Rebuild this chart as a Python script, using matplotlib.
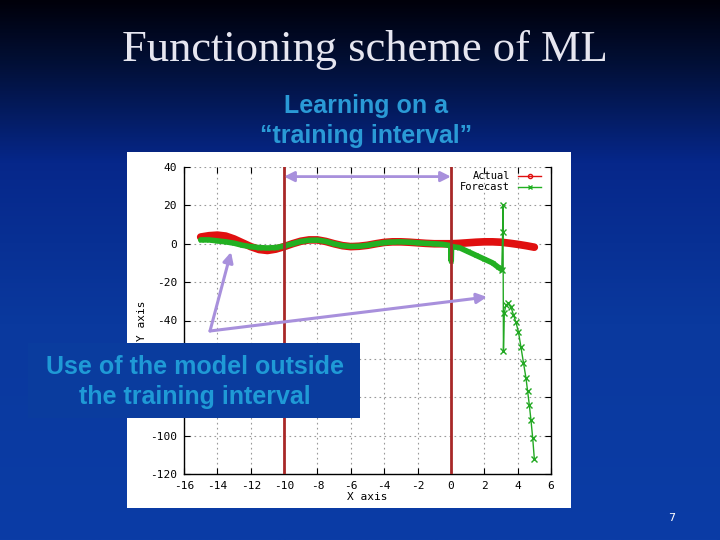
import numpy as np
import matplotlib
matplotlib.use('Agg')
import matplotlib.pyplot as plt
from matplotlib.colors import LinearSegmentedColormap
from matplotlib.patches import Rectangle
from matplotlib.lines import Line2D

# Datos
x_actual = [-15.0, -14.5, -14.0, -13.5, -13.0, -12.5, -12.0, -11.5, -11.0, -10.5, -10.0,
            -9.5, -9.0, -8.5, -8.0, -7.5, -7.0, -6.5, -6.0, -5.5, -5.0, -4.5, -4.0,
            -3.5, -3.0, -2.5, -2.0, -1.5, -1.0, -0.5, 0.0, 0.5, 1.0, 1.5, 2.0, 2.5,
            3.0, 3.5, 4.0, 4.5, 5.0]
y_actual = [3.5, 4.2, 4.5, 4.0, 2.5, 0.5, -1.5, -3.0, -3.5, -2.8, -1.5,
            0.0, 1.3, 2.0, 2.0, 1.2, 0.0, -1.0, -1.5, -1.3, -0.8, 0.0, 0.7,
            1.0, 1.0, 0.8, 0.5, 0.2, 0.0, 0.0, 0.0, 0.2, 0.5, 0.8, 1.0, 1.0,
            0.8, 0.3, -0.3, -1.0, -1.8]

x_fc_fit = [-15.0, -14.5, -14.0, -13.5, -13.0, -12.5, -12.0, -11.5, -11.0, -10.5, -10.0,
            -9.5, -9.0, -8.5, -8.0, -7.5, -7.0, -6.5, -6.0, -5.5, -5.0, -4.5, -4.0,
            -3.5, -3.0, -2.5, -2.0, -1.5, -1.0, -0.5, 0.0, 0.02, 0.04, 0.5, 1.0,
            1.5, 2.0, 2.5, 2.8, 3.05]
y_fc_fit = [2.0, 2.0, 1.5, 1.0, 0.3, -0.8, -1.5, -2.0, -2.2, -2.0, -1.2,
            0.0, 1.2, 1.8, 1.9, 1.2, 0.0, -1.0, -1.4, -1.3, -0.8, 0.0, 0.6,
            0.9, 1.0, 0.8, 0.5, 0.2, 0.0, -0.3, -1.0, -9.0, -1.5, -2.0, -4.0,
            -6.0, -8.0, -10.0, -12.0, -13.5]
x_fc_out = [3.05, 3.1, 3.12, 3.15, 3.2, 3.3, 3.45, 3.6, 3.75, 3.9, 4.05, 4.2, 4.35,
            4.5, 4.6, 4.7, 4.8, 4.9, 5.0]
y_fc_out = [-13.5, 6.0, 20.0, -56.0, -36.0, -32.0, -31.0, -33.0, -37.0, -41.0, -46.0,
            -54.0, -62.0, -70.0, -77.0, -84.0, -92.0, -101.0, -112.0]

x_bounds = [-10, 0]
x_ticks = [-16, -14, -12, -10, -8, -6, -4, -2, 0, 2, 4, 6]
y_ticks = [40, 20, 0, -20, -40, -60, -80, -100, -120]
y_hidden = [-60, -80]  # tapadas por el recuadro azul

fig = plt.figure(figsize=(7.2, 5.4), dpi=100)

# Fondo degradado
bg = fig.add_axes([0, 0, 1, 1], zorder=0)
cmap = LinearSegmentedColormap.from_list('slide', [(0.0, '#00000a'), (0.12, '#021038'),
                                                   (0.3, '#06278a'), (0.6, '#0a399e'),
                                                   (1.0, '#0b3ca6')])
bg.imshow(np.linspace(0, 1, 256).reshape(-1, 1), aspect='auto', cmap=cmap,
          extent=[0, 1, 0, 1], origin='upper')
bg.set_axis_off()

# Capa en pixeles
ov = fig.add_axes([0, 0, 1, 1], zorder=1)
ov.set_xlim(0, 720)
ov.set_ylim(540, 0)
ov.set_axis_off()
ov.add_patch(Rectangle((127, 152), 444, 356, facecolor='white', edgecolor='none'))

ov.text(365, 50, 'Functioning scheme of ML', ha='center', va='center',
        fontsize=32, family='Liberation Serif', color='#e6e6f0')
ov.text(366, 121, 'Learning on a\n\u201ctraining interval\u201d', ha='center', va='center',
        fontsize=18, weight='bold', family='Liberation Sans', color='#2a9ad6',
        linespacing=1.35)
ov.text(672, 518, '7', ha='center', va='center', fontsize=8, color='white')

# Grafico
ax = fig.add_axes([184 / 720, 66 / 540, 367 / 720, 307 / 540], zorder=2)
ax.plot(x_actual, y_actual, color='#e01010', lw=5.5, solid_capstyle='round', zorder=3)
ax.plot(x_fc_fit, y_fc_fit, color='#22b022', lw=4, marker='x', ms=3,
        mew=0.8, solid_capstyle='round', zorder=4)
ax.plot(x_fc_out, y_fc_out, color='#22a822', lw=1.0, marker='x', ms=4, mew=1.0, zorder=4)
for xb in x_bounds:
    ax.axvline(xb, color='#a82828', lw=2, zorder=6)

ax.set_xlim(-16, 6)
ax.set_ylim(-120, 40)
ax.set_xticks(x_ticks)
ax.set_yticks(y_ticks)
ax.set_xticklabels([str(t) for t in x_ticks], family='DejaVu Sans Mono', fontsize=8)
ax.set_yticklabels(['' if t in y_hidden else str(t) for t in y_ticks],
                   family='DejaVu Sans Mono', fontsize=8)
ax.tick_params(direction='in', top=True, right=True, length=4, width=0.8, pad=5)
ax.grid(True, color='#999999', linestyle=(0, (1.5, 3)), lw=0.8)
ax.spines['top'].set_visible(False)
for s in ['left', 'bottom', 'right']:
    ax.spines[s].set_linewidth(1.0)
ax.set_xlabel('X axis', family='DejaVu Sans Mono', fontsize=8, labelpad=1)
ax.set_ylabel('Y axis', family='DejaVu Sans Mono', fontsize=8, labelpad=2)

handles = [Line2D([], [], color='#e01010', lw=1, marker='o', ms=3, mfc='none'),
           Line2D([], [], color='#22b022', lw=1, marker='x', ms=3)]
leg = ax.legend(handles, ['Actual', 'Forecast'], loc='upper right', frameon=False,
                markerfirst=False, prop={'family': 'DejaVu Sans Mono', 'size': 7.5},
                handlelength=2.2, labelspacing=0.1, borderaxespad=0.0,
                bbox_to_anchor=(0.985, 1.0))
leg.set_zorder(5)

# Flecha del intervalo de entrenamiento
ax.annotate('', xy=(x_bounds[0], 35), xytext=(x_bounds[1], 35),
            arrowprops=dict(arrowstyle='<|-|>', color='#a890dc', lw=2, mutation_scale=15,
                            shrinkA=0, shrinkB=0), zorder=7)

# Flechas y recuadro exterior
ov2 = fig.add_axes([0, 0, 1, 1], zorder=3)
ov2.set_xlim(0, 720)
ov2.set_ylim(540, 0)
ov2.set_axis_off()
ov2.patch.set_alpha(0)
for tip in [(231, 252), (487, 297)]:
    ov2.annotate('', xy=tip, xytext=(210, 331),
                 arrowprops=dict(arrowstyle='-|>', color='#a890dc', lw=2.2,
                                 mutation_scale=15, shrinkA=0, shrinkB=0))
ov2.add_patch(Rectangle((28, 343), 332, 75, facecolor='#0a3c9e', edgecolor='none'))
ov2.text(195, 382, 'Use of the model outside\nthe training interval', ha='center',
         va='center', fontsize=18, weight='bold', family='Liberation Sans',
         color='#1f9ad6', linespacing=1.35)

fig.savefig('out.png', dpi=100)
